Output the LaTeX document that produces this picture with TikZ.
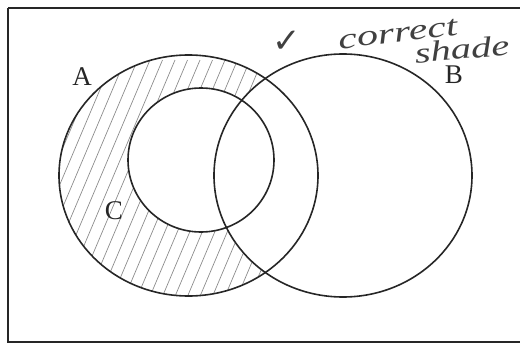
\documentclass[tikz,border=0pt]{standalone}
\usepackage{fontspec}
\setmainfont{Liberation Serif}
\newfontfamily\symfont{DejaVu Sans}
\begin{document}
\begin{tikzpicture}[x=1pt,y=-1pt,
  outline/.style={line width=1.6pt, draw=black!85},
  hatch/.style={line width=0.7pt, draw=black!45},
  label/.style={font=\fontsize{27}{27}\selectfont, text=black!85, inner sep=0pt},
  hand/.style={font=\itshape\fontsize{29}{29}\selectfont, text=black!75, inner sep=0pt}]
\useasboundingbox (0,0) rectangle (520,343);
\coordinate (ca) at (188.5,175.5);
\coordinate (cb) at (343,175.5);
\coordinate (cc) at (201,160);
% hatching in A minus C minus B
\begin{scope}
  \clip (ca) ellipse [x radius=129.5, y radius=120.5];
  \foreach \i in {0,...,40} {
    \draw[hatch] (-60+\i*12.5, 320) -- ++(110,-260);
  }
  \fill[white] (cc) ellipse [x radius=73, y radius=72];
  \fill[white] (cb) ellipse [x radius=129, y radius=121.5];
\end{scope}
% frame
\draw[outline] (8,8) -- (530,8);
\draw[outline] (8,8) -- (8,342) -- (530,342);
% circles
\draw[outline] (ca) ellipse [x radius=129.5, y radius=120.5];
\draw[outline] (cc) ellipse [x radius=73, y radius=72];
\draw[outline] (cb) ellipse [x radius=129, y radius=121.5];
% labels
\node[label] (la) at (82,77) {A};
\node[label] (lb) at (454,75) {B};
\node[label] (lc) at (114,211) {C};
% handwritten note
\node[hand, font=\fontsize{34}{34}\selectfont] (tick) at (287,42) {\symfont ✓};
\node[hand, rotate=7, xscale=1.45] (corr) at (398,34) {correct};
\node[hand, rotate=5, xscale=1.4] (shade) at (462,49) {shade};
\end{tikzpicture}
\end{document}
